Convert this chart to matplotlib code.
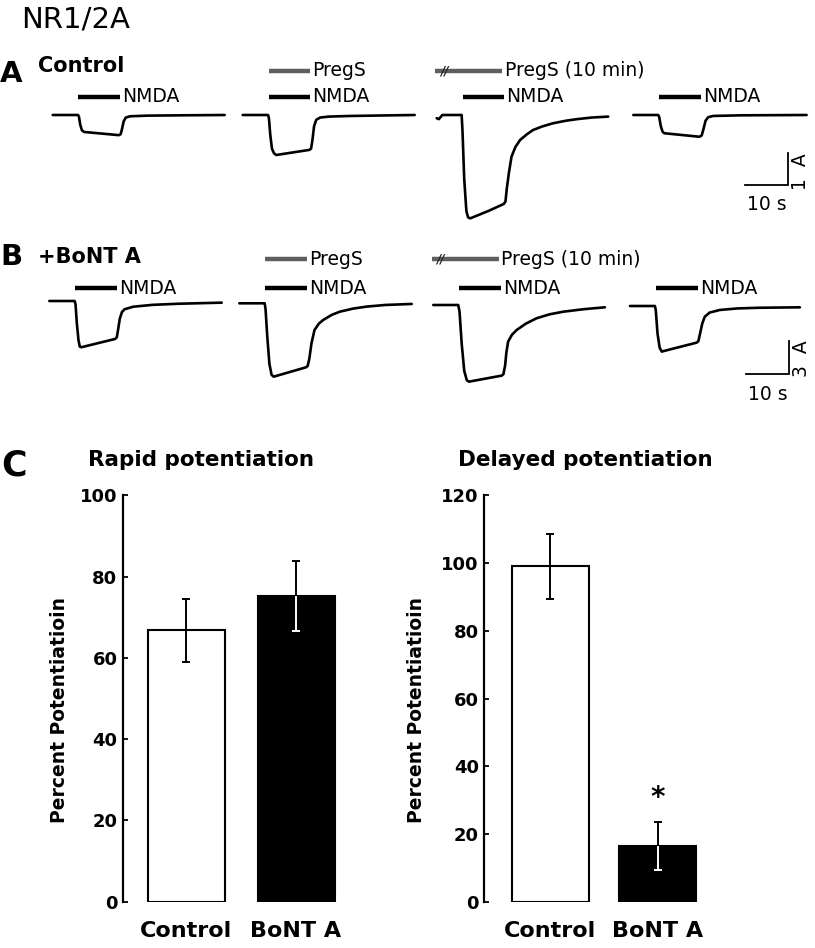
import matplotlib
matplotlib.use("Agg")
import matplotlib.pyplot as plt
import numpy as np

plt.rcParams['font.family'] = ['DejaVu Sans']

W, H = 815, 948

# ---------------- data: current traces (time s, current uA) ----------------
# Panel A (control)
a1_t = [0, 5.9, 6.1, 6.4, 6.8, 7.3, 15.4, 15.8, 16.1, 16.5, 17.0, 18.0, 22, 30, 40]
a1_i = [0, 0, -0.05, -0.3, -0.48, -0.53, -0.63, -0.6, -0.45, -0.2, -0.08, -0.04, -0.02, -0.01, 0]
a2_t = [0, 5.9, 6.1, 6.4, 6.8, 7.3, 7.8, 15.5, 15.9, 16.2, 16.6, 17.1, 18.0, 20, 25, 40]
a2_i = [0, 0, -0.1, -0.6, -1.05, -1.2, -1.25, -1.09, -1.05, -0.8, -0.35, -0.15, -0.08, -0.05, -0.03, 0]
a3_t = [0, 0.5, 1.3, 5.8, 6.0, 6.4, 6.9, 7.3, 7.8, 12, 15.6, 16.0, 16.3, 16.8, 17.4, 18.3,
        19.4, 21.0, 22.4, 24.5, 27.0, 30, 32.6, 36, 39.9]
a3_i = [-0.1, -0.13, 0, 0, -0.5, -2.0, -3.0, -3.2, -3.23, -3.0, -2.78, -2.7, -2.3, -1.8, -1.3, -1.0,
        -0.78, -0.6, -0.47, -0.36, -0.26, -0.18, -0.13, -0.08, -0.05]
a4_t = [0, 5.8, 6.0, 6.4, 6.8, 7.2, 15.4, 15.9, 16.3, 16.8, 17.4, 18.5, 25, 40.3]
a4_i = [0, 0, -0.05, -0.35, -0.52, -0.57, -0.68, -0.64, -0.45, -0.18, -0.07, -0.03, -0.01, 0]

# Panel B (+BoNT A)
b1_t = [0, 5.9, 6.1, 6.4, 6.8, 7.1, 7.5, 15.3, 15.7, 16.0, 16.4, 16.9, 17.5, 19.5, 24, 30, 40.1]
b1_i = [0, 0, -0.3, -2.0, -3.6, -4.15, -4.2, -3.45, -3.3, -2.6, -1.6, -1.0, -0.75, -0.52, -0.35, -0.25, -0.15]
b2_t = [0, 5.9, 6.1, 6.5, 7.0, 7.5, 8.0, 15.5, 15.9, 16.3, 16.8, 17.5, 18.5, 19.5, 21.5, 23.4, 26.5,
        29.6, 34, 40.1]
b2_i = [0, 0, -0.5, -3.0, -5.5, -6.5, -6.67, -5.82, -5.7, -5.0, -3.6, -2.42, -1.85, -1.52, -1.05, -0.76,
        -0.48, -0.3, -0.15, -0.06]
b3_t = [0, 5.8, 6.1, 6.6, 7.2, 7.8, 8.3, 15.9, 16.3, 16.7, 17.0, 17.4, 18.3, 19.4, 21.5, 24.0, 27,
        30.2, 35, 39.9]
b3_i = [0, 0, -0.6, -3.5, -6.0, -6.85, -6.97, -6.42, -6.3, -5.5, -4.3, -3.33, -2.7, -2.27, -1.7, -1.21,
        -0.85, -0.61, -0.38, -0.21]
b4_t = [0, 5.8, 6.0, 6.4, 6.9, 7.4, 7.8, 15.5, 15.9, 16.3, 16.8, 17.4, 18.5, 20.9, 25, 30, 39.5]
b4_i = [0, 0, -0.4, -2.5, -3.8, -4.15, -4.1, -3.33, -3.2, -2.5, -1.6, -0.97, -0.6, -0.36, -0.22, -0.16, -0.12]

# drug applications (s, relative to trace start)
nmda_on, nmda_off = 6.0, 15.7
pregs_on, pregs_off = 6.0, 15.7
pregs10_on, pregs10_off = -0.4, 15.3

# ---------------- data: bar charts ----------------
groups = ["Control", "BoNT A"]
rapid_mean = [66.8, 75.2]
rapid_err = [7.7, 8.6]
delayed_mean = [99.0, 16.4]
delayed_err = [9.6, 7.1]
rapid_ticks = [0, 20, 40, 60, 80, 100]
delayed_ticks = [0, 20, 40, 60, 80, 100, 120]

# ---------------- layout ----------------
px_per_s = 4.3
fig = plt.figure(figsize=(W / 100, H / 100), dpi=100)


def rect(l, t, r, b):
    return [l / W, 1 - b / H, (r - l) / W, (b - t) / H]


def fx(x):
    return x / W


def fy(y):
    return 1 - y / H


LW = 1.9
BAR_LW = 3.2
GRAY = '#5f5f5f'


def trace_row(top, bottom, base_px, px_per_ua, starts_px, traces, yshift_px):
    ax = fig.add_axes(rect(0, top, W, bottom))
    ax.set_xlim(0, W / px_per_s)
    ax.set_ylim(-(bottom - base_px) / px_per_ua, (base_px - top) / px_per_ua)
    ax.axis('off')
    offs = []
    for (t, i), sx, dy in zip(traces, starts_px, yshift_px):
        t0 = sx / px_per_s
        ax.plot(np.array(t) + t0, np.array(i) - dy / px_per_ua, color='black', lw=LW,
                solid_joinstyle='round', solid_capstyle='round')
        offs.append(t0)
    return ax, offs


# ----- Row A -----
axA, offA = trace_row(40, 232, 115, 32.0, [52.7, 242.7, 436.7, 633.3],
                      [(a1_t, a1_i), (a2_t, a2_i), (a3_t, a3_i), (a4_t, a4_i)], [0, 0, 0, 0])
# ----- Row B -----
axB, offB = trace_row(235, 420, 303, 11.0, [49.3, 239.3, 433.3, 630.0],
                      [(b1_t, b1_i), (b2_t, b2_i), (b3_t, b3_i), (b4_t, b4_i)], [-2, 0.3, 2, 3])

txt_fs = 13.5


def drug_bars(ax, offs, y_nmda, y_pregs):
    for k, t0 in enumerate(offs):
        ax.plot([t0 + nmda_on, t0 + nmda_off], [y_nmda, y_nmda], color='black', lw=BAR_LW,
                solid_capstyle='butt')
        ax.text(t0 + nmda_off + 0.5, y_nmda, "NMDA", fontsize=txt_fs, va='center', ha='left')
        if k == 1:
            ax.plot([t0 + pregs_on, t0 + pregs_off], [y_pregs, y_pregs], color=GRAY, lw=BAR_LW,
                    solid_capstyle='butt')
            ax.text(t0 + pregs_off + 0.5, y_pregs, "PregS", fontsize=txt_fs, va='center', ha='left')
        if k == 2:
            ax.plot([t0 + pregs10_on, t0 + pregs10_off], [y_pregs, y_pregs], color=GRAY, lw=BAR_LW,
                    solid_capstyle='butt')
            ax.text(t0 + pregs10_on + 2.1, y_pregs, "//", fontsize=8.5, va='center', ha='center',
                    color='#222222', fontweight='bold', style='italic')
            ax.text(t0 + pregs10_off + 0.5, y_pregs, "PregS (10 min)", fontsize=txt_fs, va='center',
                    ha='left')


drug_bars(axA, offA, (115 - 97) / 32.0, (115 - 70.7) / 32.0)
drug_bars(axB, offB, (303 - 288.5) / 11.0, (303 - 259.5) / 11.0)


def scale_bar(ax, x_px, y_val, amp, label_amp, txt_y, amp_txt_y):
    x0 = x_px / px_per_s
    ax.plot([x0, x0 + 10, x0 + 10], [y_val, y_val, y_val + amp], color='black', lw=1.3,
            solid_joinstyle='miter')
    ax.text(x0 + 5, txt_y, "10 s", fontsize=txt_fs, ha='center', va='center')
    ax.text(x0 + 10 + 2.9, amp_txt_y, label_amp, fontsize=txt_fs, ha='center', va='center',
            rotation=90)


scale_bar(axA, 745, -(185 - 115) / 32.0, 1, "1  A", -(205 - 115) / 32.0, -(172 - 115) / 32.0)
scale_bar(axB, 746, -(374.3 - 303) / 11.0, 3, "3  A", -(395 - 303) / 11.0, -(359 - 303) / 11.0)

# ---------------- panel C bar charts ----------------


def bar_panel(left_px, unit_px, xmin, width, ymax, means, errs, ticks, ylab_x_px):
    right_px = left_px + (1.6 - xmin) * unit_px
    ax = fig.add_axes(rect(left_px, 495.3, right_px, 901.7))
    ax.set_xlim(xmin, 1.6)
    ax.set_ylim(0, ymax)
    x = np.arange(len(means))
    colors = ['white', 'black']
    ax.bar(x, means, width=width, color=colors, edgecolor='black', linewidth=1.5, zorder=2)
    cap = 0.035
    for xi, m, e, c in zip(x, means, errs, colors):
        low_col = 'white' if c == 'black' else 'black'
        ax.vlines(xi, m, m + e, color='black', lw=1.4, zorder=3)
        ax.hlines(m + e, xi - cap, xi + cap, color='black', lw=1.4, zorder=3)
        ax.vlines(xi, m - e, m, color=low_col, lw=1.4, zorder=3)
        ax.hlines(m - e, xi - cap, xi + cap, color=low_col, lw=1.4, zorder=3)
    for s in ['top', 'right', 'bottom']:
        ax.spines[s].set_visible(False)
    ax.spines['left'].set_linewidth(1.6)
    ax.set_yticks(ticks)
    ax.tick_params(axis='y', direction='in', length=3.5, width=1.3, pad=4, labelsize=13)
    for lab in ax.get_yticklabels():
        lab.set_fontweight('bold')
    ax.set_xticks(x)
    ax.set_xticklabels(groups, fontsize=16, fontweight='bold')
    ax.tick_params(axis='x', length=0, pad=14)
    ax.set_ylabel("Percent Potentiatioin", fontsize=13.5, fontweight='bold')
    ax.yaxis.set_label_coords((ylab_x_px - left_px) / (right_px - left_px), (901.7 - 710) / 406.4)
    return ax


ax1 = bar_panel(123, 110, -0.573, 0.70, 100, rapid_mean, rapid_err, rapid_ticks, 69)
ax2 = bar_panel(484.3, 107.8, -0.61, 0.714, 120, delayed_mean, delayed_err, delayed_ticks, 426)
ax2.text(1, delayed_mean[1] + delayed_err[1] + 7, "*", fontsize=20, fontweight='bold',
         ha='center', va='center')

# ---------------- texts ----------------
fig.text(fx(21), fy(28), "NR1/2A", fontsize=21, va='baseline', ha='left')
fig.text(fx(0), fy(82), "A", fontsize=21, fontweight='heavy', va='baseline', ha='left')
fig.text(fx(38), fy(72), "Control", fontsize=15, fontweight='bold', va='baseline', ha='left')
fig.text(fx(0), fy(265), "B", fontsize=21, fontweight='heavy', va='baseline', ha='left')
fig.text(fx(38), fy(263), "+BoNT A", fontsize=15, fontweight='bold', va='baseline', ha='left')
fig.text(fx(1), fy(475), "C", fontsize=25, fontweight='heavy', va='baseline', ha='left')
fig.text(fx(201), fy(466), "Rapid potentiation", fontsize=15.5, fontweight='bold', va='baseline',
         ha='center')
fig.text(fx(585), fy(466), "Delayed potentiation", fontsize=15.5, fontweight='bold', va='baseline',
         ha='center')

fig.savefig("out.png", dpi=100)
